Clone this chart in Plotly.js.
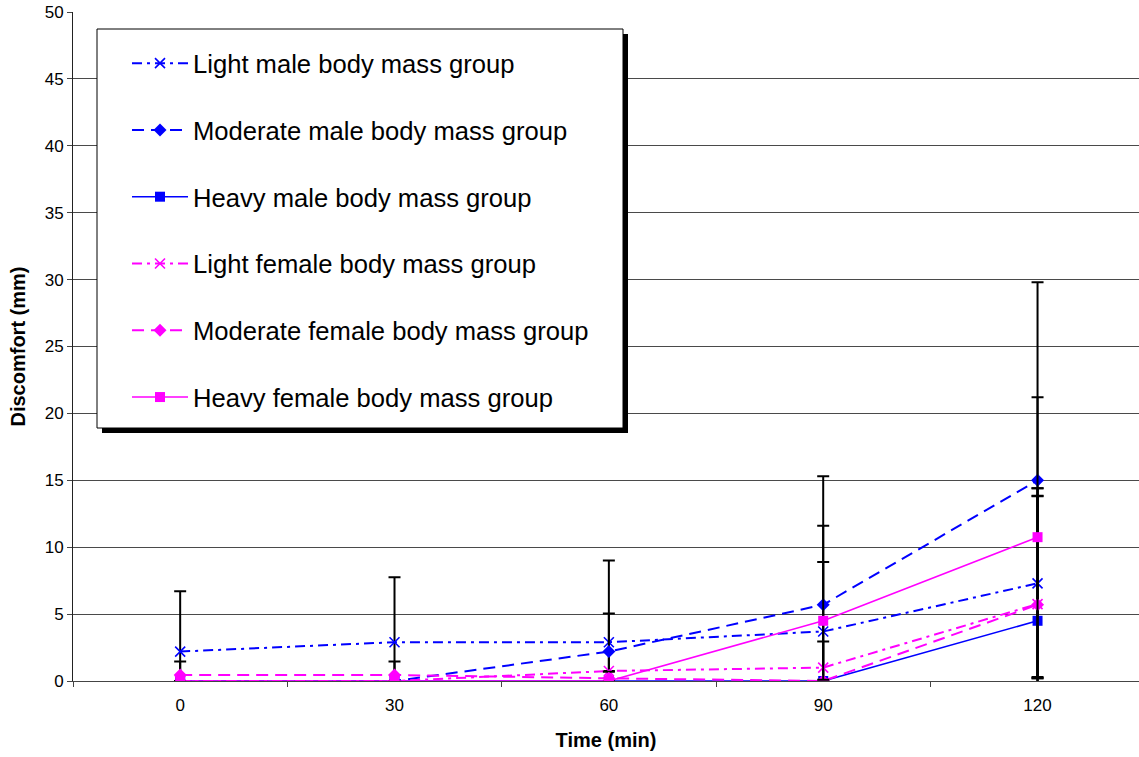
<!DOCTYPE html>
<html>
<head>
<meta charset="utf-8">
<script src="https://cdn.plot.ly/plotly-3.0.1.min.js"></script>
<style>
  html, body { margin: 0; padding: 0; background: #fff; }
  #chart { width: 1139px; height: 757px; }
</style>
</head>
<body>
<div id="chart"></div>
<script>
// Time points (min) and their tick labels
const timeMin = [0, 30, 60, 90, 120];
const timeLabels = ['0', '30', '60', '90', '120'];

// Mean discomfort (mm) per group
const lightMale = [2.2, 2.9, 2.9, 3.7, 7.3];
const moderateMale = [0, 0, 2.2, 5.7, 15.0];
const heavyMale = [0, 0, 0, 0, 4.5];
const lightFemale = [0, 0, 0.75, 1.0, 5.75];
const moderateFemale = [0.45, 0.45, 0.2, 0, 5.7];
const heavyFemale = [0, 0, 0, 4.5, 10.75];

// Standard deviations (mm) per group
const lightMaleSD = [4.5, 4.85, 6.1, 7.9, 7.1];
const moderateMaleSD = [0, 0, 2.85, 9.6, 14.8];
const heavyMaleSD = [0, 0, 0, 0, 9.3];
const lightFemaleSD = [0, 0, 0, 1.95, 8.1];
const moderateFemaleSD = [1.0, 1.0, 0.5, 0, 8.7];
const heavyFemaleSD = [0, 0, 0, 4.4, 10.45];

const groupNames = [
  'Light male body mass group',
  'Moderate male body mass group',
  'Heavy male body mass group',
  'Light female body mass group',
  'Moderate female body mass group',
  'Heavy female body mass group'
];

const BLUE = '#0000FF';
const MAGENTA = '#FF00FF';
const FONT = 'Liberation Sans, Arial, Helvetica, sans-serif';

const DASHDOT = '10px,5px,3px,5px';
const DASHED = '12px,7px';

function series(idx, y, sd, color, dash, symbol, size) {
  const isX = symbol === 'x-thin';
  return {
    type: 'scatter',
    mode: 'lines+markers',
    x: timeMin,
    y: y,
    name: groupNames[idx],
    legendgroup: 'g' + idx,
    line: { color: color, width: dash === 'solid' ? 1.6 : 2, dash: dash },
    marker: {
      symbol: symbol,
      size: size,
      color: color,
      line: { color: color, width: isX ? 1.6 : 0 }
    },
    error_y: {
      type: 'data',
      array: sd,
      symmetric: true,
      color: '#000',
      thickness: 2,
      width: 6
    }
  };
}

const traces = [
  series(0, lightMale, lightMaleSD, BLUE, DASHDOT, 'x-thin', 10),
  series(1, moderateMale, moderateMaleSD, BLUE, DASHED, 'diamond', 10),
  series(2, heavyMale, heavyMaleSD, BLUE, 'solid', 'square', 10),
  series(3, lightFemale, lightFemaleSD, MAGENTA, DASHDOT, 'x-thin', 10),
  series(4, moderateFemale, moderateFemaleSD, MAGENTA, DASHED, 'diamond', 10),
  series(5, heavyFemale, heavyFemaleSD, MAGENTA, 'solid', 'square', 10)
];

// Plot area geometry in page pixels
const W = 1139, H = 757;
const M = { l: 73, r: 0, t: 12, b: 76 };
const plotW = W - M.l - M.r;
const plotH = H - M.t - M.b;
const px = (x) => (x - M.l) / plotW;
const py = (y) => (H - M.b - y) / plotH;

// Legend frame with drop shadow
const box = { x0: 97, y0: 29, x1: 623, y1: 428 };
const shadow = 5;

const layout = {
  width: W,
  height: H,
  margin: M,
  paper_bgcolor: '#fff',
  plot_bgcolor: '#fff',
  font: { family: FONT, color: '#000' },
  showlegend: true,
  legend: {
    x: px(127),
    y: py(40),
    xanchor: 'left',
    yanchor: 'top',
    bgcolor: 'rgba(0,0,0,0)',
    borderwidth: 0,
    font: { family: FONT, size: 25.6, color: '#000' },
    itemwidth: 56,
    tracegroupgap: 30.5,
    traceorder: 'grouped'
  },
  xaxis: {
    range: [-15, 134.2],
    tickmode: 'array',
    tickvals: timeMin,
    ticktext: timeLabels,
    ticks: 'outside',
    ticklen: 9,
    tickcolor: 'rgba(0,0,0,0)',
    tickfont: { family: FONT, size: 17, color: '#000' },
    showgrid: false,
    zeroline: false,
    showline: true,
    linecolor: '#444',
    linewidth: 1,
    minor: {
      tickmode: 'array',
      tickvals: [-15, 15, 45, 75, 105],
      ticks: 'outside',
      ticklen: 5,
      tickcolor: '#444',
      showgrid: false
    },
    title: {
      text: 'Time (min)',
      font: { family: FONT, size: 20, weight: 'bold', color: '#000' },
      standoff: 18
    },
    fixedrange: true
  },
  yaxis: {
    range: [0, 50],
    tick0: 0,
    dtick: 5,
    ticks: 'outside',
    ticklen: 5,
    tickcolor: '#444',
    tickfont: { family: FONT, size: 17, color: '#000' },
    showgrid: true,
    gridcolor: '#4a4a4a',
    gridwidth: 1,
    zeroline: false,
    showline: true,
    linecolor: '#222',
    linewidth: 1,
    title: {
      text: 'Discomfort (mm)',
      font: { family: FONT, size: 20, weight: 'bold', color: '#000' },
      standoff: 13
    },
    fixedrange: true
  },
  shapes: [
    {
      type: 'rect', xref: 'paper', yref: 'paper', layer: 'above',
      x0: px(box.x0 + shadow), x1: px(box.x1 + shadow),
      y0: py(box.y1 + shadow), y1: py(box.y0 + shadow),
      fillcolor: '#000', line: { width: 0 }
    },
    {
      type: 'rect', xref: 'paper', yref: 'paper', layer: 'above',
      x0: px(box.x0), x1: px(box.x1),
      y0: py(box.y1), y1: py(box.y0),
      fillcolor: '#fff', line: { color: '#000', width: 1 }
    }
  ]
};

Plotly.newPlot('chart', traces, layout, { displayModeBar: false, staticPlot: true });
</script>
</body>
</html>
